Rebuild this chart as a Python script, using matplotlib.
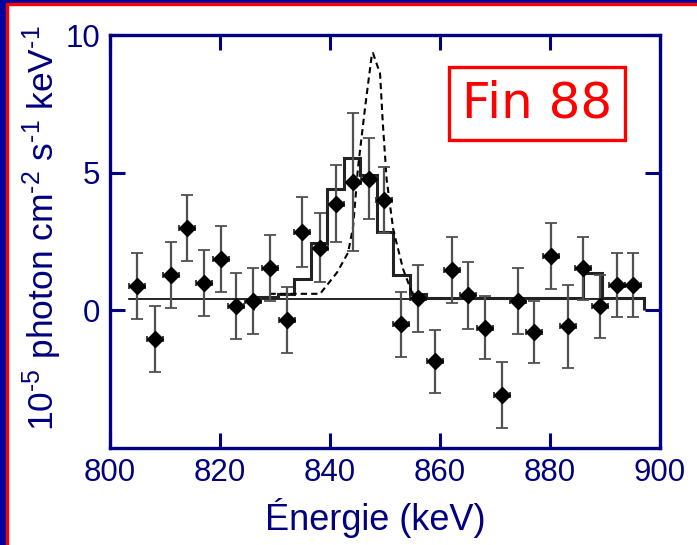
import matplotlib
matplotlib.use("Agg")
import matplotlib.pyplot as plt
from matplotlib.patches import Rectangle

# measured points (keV, 1e-5 photon cm-2 s-1 keV-1)
energy = [804.9, 808.2, 811.1, 814.0, 817.1, 820.2, 822.9, 826.0, 829.1, 832.2,
          834.9, 838.2, 841.1, 844.2, 847.1, 849.8, 852.9, 856.0, 859.1, 862.2,
          865.1, 868.2, 871.3, 874.2, 877.1, 880.2, 883.3, 886.0, 889.1, 892.2, 895.1]
flux = [0.87, -1.05, 1.3, 3.0, 1.0, 1.85, 0.15, 0.33, 1.55, -0.36,
        2.83, 2.28, 3.88, 4.67, 4.78, 4.02, -0.51, 0.43, -1.85, 1.45,
        0.54, -0.63, -3.08, 0.33, -0.8, 1.96, -0.58, 1.52, 0.15, 0.91, 0.91]
flux_err = [1.2, 1.2, 1.2, 1.2, 1.2, 1.2, 1.2, 1.2, 1.2, 1.2,
            1.27, 1.25, 1.4, 2.5, 1.47, 1.2, 1.17, 1.2, 1.15, 1.2,
            1.2, 1.15, 1.2, 1.2, 1.13, 1.2, 1.5, 1.13, 1.15, 1.17, 1.17]
energy_err = 1.5

# continuum level
cont_x = [803.5, 897.0]
cont_y = [0.4, 0.4]

# histogram model (bin edges + levels)
hist_edges = [826.0, 830.5, 833.5, 836.5, 839.5, 842.5, 845.5, 848.5, 851.5, 854.5,
              857.5, 886.0, 889.5, 897.0]
hist_vals = [0.5, 0.6, 1.15, 2.45, 4.4, 5.55, 4.9, 2.85, 1.3, 0.6, 0.45, 1.35, 0.45]

# dashed line profile
line_x = [829.0, 838.2, 841.3, 843.3, 844.2, 845.1, 846.4, 847.6, 847.8, 849.1,
          849.6, 850.3, 851.5, 853.3, 854.9, 857.0]
line_y = [0.6, 0.6, 1.38, 2.1, 3.04, 5.2, 7.4, 9.28, 9.35, 8.6,
          6.8, 4.75, 2.93, 1.49, 0.65, 0.55]

navy = "#000080"
plt.rcParams['font.family'] = ['Liberation Sans', 'DejaVu Sans']
plt.rcParams['mathtext.fontset'] = 'custom'
plt.rcParams['mathtext.rm'] = 'Liberation Sans'
plt.rcParams['mathtext.default'] = 'regular'

fig = plt.figure(figsize=(6.97, 5.45), dpi=100)
fig.patch.set_facecolor("white")

# slide frame (top and left)
fig.patches.append(Rectangle((0, 0), 6 / 697, 1, transform=fig.transFigure, color="#0000a0", zorder=0))
fig.patches.append(Rectangle((6 / 697, 0), 2 / 697, 1 - 3 / 545, transform=fig.transFigure, color="red", zorder=0))
fig.patches.append(Rectangle((0, 1 - 3 / 545), 1, 3 / 545, transform=fig.transFigure, color="#0000a0", zorder=0))
fig.patches.append(Rectangle((6 / 697, 1 - 5 / 545), 1, 2 / 545, transform=fig.transFigure, color="red", zorder=0))

ax = fig.add_axes([110 / 697, 1 - 448 / 545, 550 / 697, 413 / 545])

ax.plot(cont_x, cont_y, c="k", lw=1.2, zorder=2)
ax.stairs(hist_vals, hist_edges, color="#222222", lw=2.2, zorder=3)
ax.plot(line_x, line_y, c="k", lw=1.5, ls=(0, (3, 2)), zorder=3)

ax.errorbar(energy, flux, yerr=flux_err, fmt="none", ecolor="#505050", elinewidth=1.6,
            capsize=4.5, capthick=1.3, zorder=4)
ax.errorbar(energy, flux, xerr=energy_err, fmt="D", color="k", ms=8, ecolor="#303030",
            elinewidth=1.6, capsize=2.5, capthick=1.3, zorder=5)

ax.set_xlim(800, 900)
ax.set_ylim(-5, 10)
ax.set_xticks([800, 820, 840, 860, 880, 900])
ax.set_yticks([0, 5, 10])
ax.tick_params(direction="in", length=11, width=2.2, color=navy, labelcolor=navy,
               labelsize=22.5, top=True, right=True, pad=7)
for s in ax.spines.values():
    s.set_color(navy)
    s.set_linewidth(2.4)

fig.text(42 / 697, 1 - 228 / 545, r"10$^{\text{-5}}$ photon cm$^{\text{-2}}$ s$^{\text{-1}}$ keV$^{\text{-1}}$",
         rotation=90, ha="center", va="center", color=navy, fontsize=25.5)
fig.text(375 / 697, 1 - 518 / 545, "Énergie (keV)", ha="center", va="center",
         color=navy, fontsize=26)

fig.text(537 / 697, 1 - 103 / 545, "Fin 88", ha="center", va="center", color="red",
         fontsize=36, family=["DejaVu Sans"],
         bbox=dict(boxstyle="square,pad=0.25", fc="white", ec="red", lw=2.4))

fig.savefig("out.png", dpi=100)
